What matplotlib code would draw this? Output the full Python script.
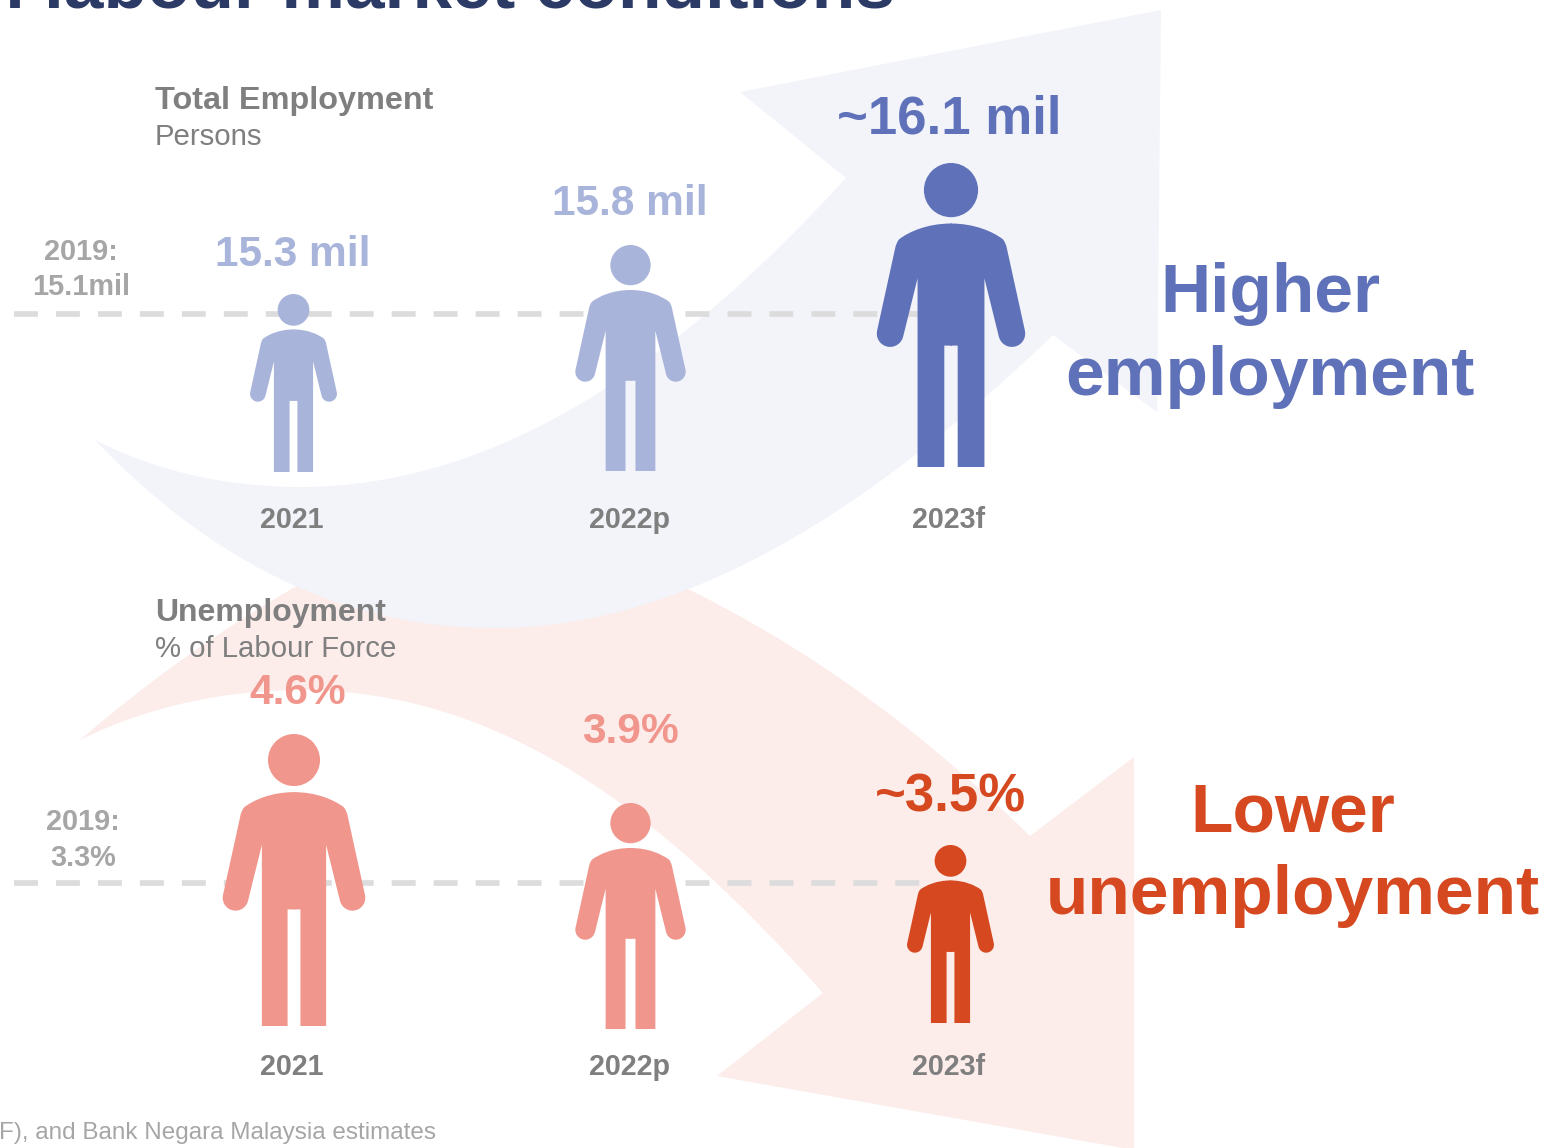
#!/usr/bin/env python3
"""Labour market infographic: employment and unemployment pictograms over big arrows."""

import numpy as np
import matplotlib
matplotlib.use("Agg")
import matplotlib.pyplot as plt
from matplotlib.patches import Circle, PathPatch
from matplotlib.path import Path

plt.rcParams["font.family"] = ["Liberation Sans", "DejaVu Sans"]

YEARS = ["2021", "2022p", "2023f"]
EMPLOYMENT_LABELS = ["15.3 mil", "15.8 mil", "~16.1 mil"]
UNEMPLOYMENT_LABELS = ["4.6%", "3.9%", "~3.5%"]

BLUE = "#5f71b8"
BLUE_LIGHT = "#a9b4db"
RED = "#d6481f"
RED_LIGHT = "#f0968c"
GREY = "#7f7f7f"
GREY_LIGHT = "#a6a6a6"
DASH = "#dcdcdc"
NAVY = "#2c3a66"

W, H = 1547, 1148
GLYPH_H = 909.0  # person glyph is described in units where height = 909


def person(ax, cx, top, height, color):
    k = height / GLYPH_H

    def half(sign):
        # the -3 makes both halves overlap down the middle, so no seam shows
        hand = np.radians(np.linspace(-12.5, 167.5, 16))
        hx = 182 + 40 * np.cos(hand)
        hy = 510 + 40 * np.sin(hand)
        verts = [(-3, 181), (0, 181)]
        codes = [Path.MOVETO, Path.LINETO]
        verts += [(70, 181), (125, 205), (155, 228)]
        codes += [Path.CURVE4] * 3
        verts += [(164, 238), (167, 255)]
        codes += [Path.CURVE3] * 2
        verts += list(zip(hx, hy))
        codes += [Path.LINETO] * len(hx)
        verts += [(100, 345), (100, 909), (20, 909), (20, 546), (-3, 546)]
        codes += [Path.LINETO] * 5
        return [(cx + sign * x * k, top + y * k) for x, y in verts], codes

    for sign in (1, -1):
        v, c = half(sign)
        ax.add_patch(PathPatch(Path(v, c), fc=color, ec="none", zorder=5))
    ax.add_patch(Circle((cx, top + 81 * k), 81 * k, fc=color, ec="none", zorder=5))


def arrow(ax, verts, codes, color, z):
    ax.add_patch(PathPatch(Path(verts, codes), fc=color, ec="none", zorder=z))


fig = plt.figure(figsize=(W / 100, H / 100), dpi=100)
ax = fig.add_axes([0, 0, 1, 1])
ax.set_xlim(0, W)
ax.set_ylim(H, 0)
ax.axis("off")

# big background arrows, blue one sits over the red one
arrow(ax,
      [(95, 440), (160, 473), (230, 487), (300, 487), (500, 487), (680, 360), (846, 178),
       (740, 92), (1161, 10), (1157, 412), (1053, 335),
       (840, 540), (660, 628), (495, 628), (330, 628), (200, 550), (95, 440)],
      [Path.MOVETO] + [Path.CURVE4] * 6 + [Path.LINETO] * 4 + [Path.CURVE4] * 6,
      "#f2f4fa", 1)
arrow(ax,
      [(80, 740), (150, 705), (230, 690), (300, 690), (500, 690), (660, 810), (823, 993),
       (717, 1076), (1134, 1150), (1134, 757), (1030, 836),
       (900, 710), (790, 640), (690, 590), (560, 530), (400, 520), (295, 587),
       (220, 630), (150, 680), (80, 740)],
      [Path.MOVETO] + [Path.CURVE4] * 6 + [Path.LINETO] * 4 + [Path.CURVE4] * 9,
      "#fcecea", 0.5)

# 2019 reference lines
for y in (314, 883):
    ax.plot([14, 925], [y, y], color=DASH, lw=4.1, dashes=(4.2, 3.17), zorder=2,
            dash_capstyle="butt")

title_kw = dict(fontweight="bold", zorder=6)
ax.text(895, 7, "in labour market conditions", ha="right", va="baseline",
        fontsize=51.3, color=NAVY, **title_kw)

# employment panel
ax.text(155, 109, "Total Employment", fontsize=23.3, color=GREY, **title_kw)
ax.text(155, 145, "Persons", fontsize=21.2, color=GREY, zorder=6)
ax.text(81, 260, "2019:", fontsize=20.8, color=GREY_LIGHT, ha="center", **title_kw)
ax.text(81, 295, "15.1mil", fontsize=20.8, color=GREY_LIGHT, ha="center", **title_kw)

emp_people = [(293.5, 294, 178, BLUE_LIGHT), (630.5, 245, 226, BLUE_LIGHT), (951, 163, 304, BLUE)]
emp_label_pos = [(293, 266, BLUE_LIGHT, 30.6), (630, 215, BLUE_LIGHT, 30.6), (949, 134, BLUE, 38)]
for (cx, top, h, col), (lx, ly, lc, fs), lab in zip(emp_people, emp_label_pos, EMPLOYMENT_LABELS):
    person(ax, cx, top, h, col)
    ax.text(lx, ly, lab, ha="center", fontsize=fs, color=lc, **title_kw)

for x, yr in zip((291.5, 629, 949), YEARS):
    ax.text(x, 528, yr, ha="center", fontsize=20.6, color=GREY, **title_kw)
    ax.text(x, 1075, yr, ha="center", fontsize=20.6, color=GREY, **title_kw)

ax.text(1270, 312, "Higher", ha="center", fontsize=50, color=BLUE, **title_kw)
ax.text(1270, 395, "employment", ha="center", fontsize=50, color=BLUE, **title_kw)

# unemployment panel
ax.text(155, 621, "Unemployment", fontsize=23, color=GREY, **title_kw)
ax.text(155, 657, "% of Labour Force", fontsize=21.2, color=GREY, zorder=6)
ax.text(83, 830, "2019:", fontsize=20.8, color=GREY_LIGHT, ha="center", **title_kw)
ax.text(83, 866, "3.3%", fontsize=20.8, color=GREY_LIGHT, ha="center", **title_kw)

un_people = [(294, 734, 292, RED_LIGHT), (630.5, 803, 226, RED_LIGHT), (950.5, 845, 178, RED)]
un_label_pos = [(298, 704, RED_LIGHT, 30.6), (630, 743, RED_LIGHT, 30.6), (950, 811, RED, 38)]
for (cx, top, h, col), (lx, ly, lc, fs), lab in zip(un_people, un_label_pos, UNEMPLOYMENT_LABELS):
    person(ax, cx, top, h, col)
    ax.text(lx, ly, lab, ha="center", fontsize=fs, color=lc, **title_kw)

ax.text(1293, 831, "Lower", ha="center", fontsize=50, color=RED, **title_kw)
ax.text(1293, 914, "unemployment", ha="center", fontsize=50, color=RED, **title_kw)

ax.text(-1, 1139, "F), and Bank Negara Malaysia estimates", fontsize=17.5, color=GREY_LIGHT, zorder=6)

fig.savefig("out.png", dpi=100)
